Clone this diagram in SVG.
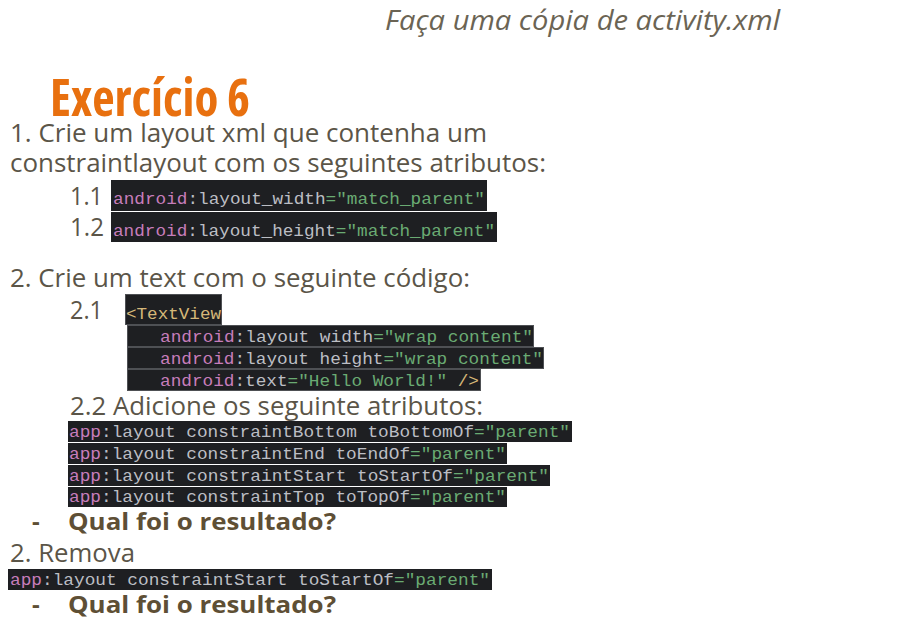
<svg xmlns="http://www.w3.org/2000/svg" width="912" height="634" viewBox="0 0 912 634">
<style>
.body{font-family:"Open Sans","Noto Sans","DejaVu Sans",sans-serif;font-size:25px;fill:#5b5548}
.it{font-family:"Open Sans","Noto Sans",sans-serif;font-style:italic;font-size:27px;fill:#6b6454}
.title{font-family:"Open Sans","Noto Sans",sans-serif;font-weight:bold;font-size:52px;fill:#e8700f;font-stretch:condensed}
.q{font-family:"Open Sans","Noto Sans",sans-serif;font-weight:bold;font-size:24px;fill:#5e4f35}
.cb{fill:#1e1f22}
.cr{fill:#1e1f22;stroke:#4e5054;stroke-width:1}
.code{font-family:"Liberation Mono","Courier New",monospace;font-size:16.5px;fill:#bcbec4}
.ns{fill:#c77dbb}
.str{fill:#6aab73}
.tag{fill:#d5b778}
</style>
<rect width="912" height="634" fill="#ffffff"/>

<g id="header">
<text class="it" x="385" y="30" textLength="395" lengthAdjust="spacingAndGlyphs">Faça uma cópia de activity.xml</text>
<text class="title" x="50" y="116" textLength="200" lengthAdjust="spacingAndGlyphs">Exercício 6</text>
</g>

<g id="step1">
<text class="body" x="10" y="142" textLength="477" lengthAdjust="spacingAndGlyphs">1. Crie um layout xml que contenha um</text>
<text class="body" x="10" y="172" textLength="536" lengthAdjust="spacingAndGlyphs">constraintlayout com os seguintes atributos:</text>
<text class="body" x="70" y="205" textLength="33" lengthAdjust="spacingAndGlyphs">1.1</text>
<rect class="cb" x="111" y="180" width="376" height="31"/>
<text class="code" x="113" y="204" textLength="372" lengthAdjust="spacingAndGlyphs"><tspan class="ns">android</tspan>:layout_width<tspan class="str">="match_parent"</tspan></text>
<text class="body" x="70" y="236" textLength="34" lengthAdjust="spacingAndGlyphs">1.2</text>
<rect class="cb" x="111" y="212" width="386" height="30"/>
<text class="code" x="113" y="236" textLength="382" lengthAdjust="spacingAndGlyphs"><tspan class="ns">android</tspan>:layout_height<tspan class="str">="match_parent"</tspan></text>
</g>

<g id="step2">
<text class="body" x="10" y="287" textLength="460" lengthAdjust="spacingAndGlyphs">2. Crie um text com o seguinte código:</text>
<text class="body" x="70" y="319" textLength="33" lengthAdjust="spacingAndGlyphs">2.1</text>
<rect class="cr" x="125.5" y="294.5" width="96" height="30"/>
<text class="code" x="126" y="319" textLength="95" lengthAdjust="spacingAndGlyphs"><tspan class="tag">&lt;TextView</tspan></text>
<rect class="cr" x="127.5" y="325.5" width="406" height="21"/>
<rect class="cr" x="127.5" y="347.5" width="416" height="21"/>
<rect class="cr" x="127.5" y="369.5" width="353" height="21"/>
<text class="code" x="160" y="342" textLength="373" lengthAdjust="spacingAndGlyphs"><tspan class="ns">android</tspan>:layout width<tspan class="str">="wrap content"</tspan></text>
<text class="code" x="160" y="364" textLength="383" lengthAdjust="spacingAndGlyphs"><tspan class="ns">android</tspan>:layout height<tspan class="str">="wrap content"</tspan></text>
<text class="code" x="160" y="386" textLength="319" lengthAdjust="spacingAndGlyphs"><tspan class="ns">android</tspan>:text<tspan class="str">="Hello World!"</tspan> <tspan class="tag">/&gt;</tspan></text>
</g>

<g id="step22">
<text class="body" x="70" y="415" textLength="413" lengthAdjust="spacingAndGlyphs">2.2 Adicione os seguinte atributos:</text>
<rect class="cb" x="68" y="421" width="504" height="21"/>
<rect class="cb" x="68" y="443" width="439" height="21"/>
<rect class="cb" x="68" y="465" width="482" height="21"/>
<rect class="cb" x="68" y="487" width="439" height="20"/>
<text class="code" x="69" y="437" textLength="501" lengthAdjust="spacingAndGlyphs"><tspan class="ns">app</tspan>:layout constraintBottom toBottomOf<tspan class="str">="parent"</tspan></text>
<text class="code" x="69" y="459" textLength="437" lengthAdjust="spacingAndGlyphs"><tspan class="ns">app</tspan>:layout constraintEnd toEndOf<tspan class="str">="parent"</tspan></text>
<text class="code" x="69" y="481" textLength="480" lengthAdjust="spacingAndGlyphs"><tspan class="ns">app</tspan>:layout constraintStart toStartOf<tspan class="str">="parent"</tspan></text>
<text class="code" x="69" y="502" textLength="437" lengthAdjust="spacingAndGlyphs"><tspan class="ns">app</tspan>:layout constraintTop toTopOf<tspan class="str">="parent"</tspan></text>
</g>

<g id="question1">
<text class="q" x="32" y="530">-</text>
<text class="q" x="68" y="530" textLength="268" lengthAdjust="spacingAndGlyphs">Qual foi o resultado?</text>
</g>

<g id="step3">
<text class="body" x="10" y="562" textLength="125" lengthAdjust="spacingAndGlyphs">2. Remova</text>
<rect class="cb" x="8" y="569" width="484" height="21"/>
<text class="code" x="10" y="585" textLength="480" lengthAdjust="spacingAndGlyphs"><tspan class="ns">app</tspan>:layout constraintStart toStartOf<tspan class="str">="parent"</tspan></text>
</g>

<g id="question2">
<text class="q" x="32" y="613">-</text>
<text class="q" x="68" y="613" textLength="268" lengthAdjust="spacingAndGlyphs">Qual foi o resultado?</text>
</g>
</svg>
